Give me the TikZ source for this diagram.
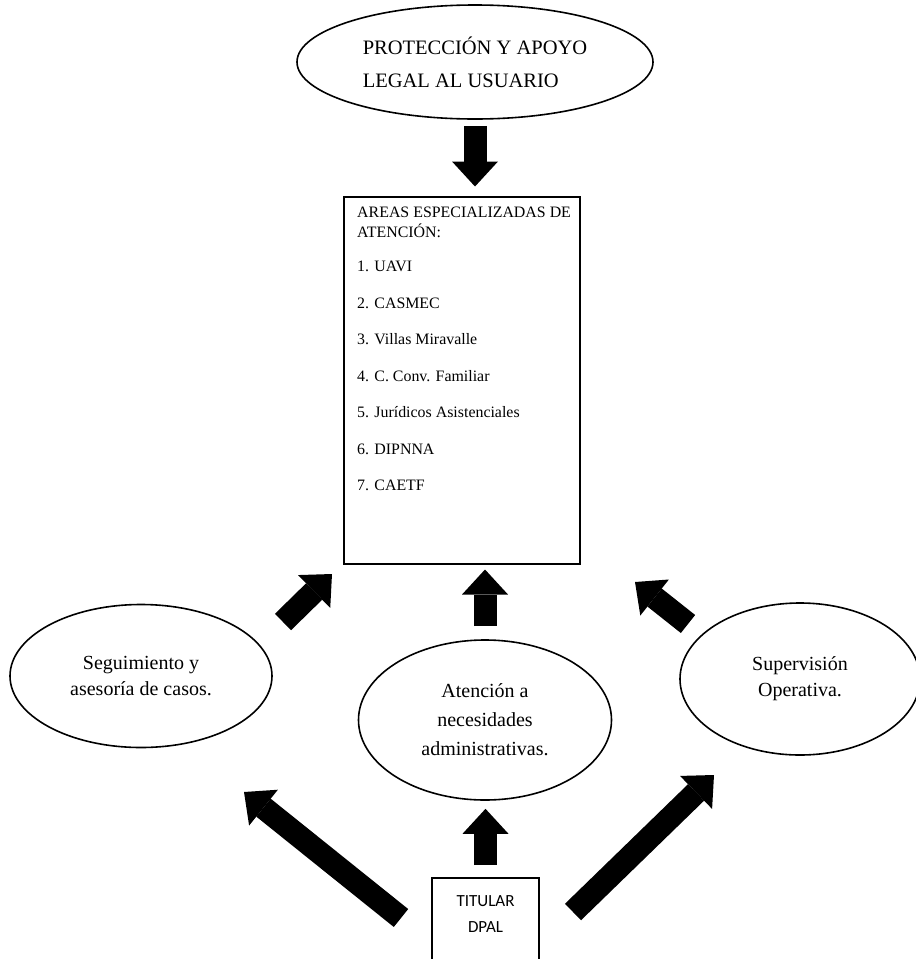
\documentclass[tikz,border=0pt]{standalone}
\usepackage{fontspec}
\setmainfont{Liberation Serif}
\newfontfamily\titularfont{Carlito}
\usetikzlibrary{shapes.geometric,arrows.meta}
\begin{document}
\begin{tikzpicture}[x=1pt,y=-1pt,
    oval/.style={draw,ellipse,line width=1.6pt,align=center,inner sep=0pt},
    box/.style={draw,line width=2pt,inner sep=0pt},
    blockarrow/.style={line width=23pt,-{Triangle[length=25pt,width=46pt,line width=0pt]}}]
  \useasboundingbox[fill=white] (0,0) rectangle (916,959);
  % nodos
  \node[oval,minimum width=356pt,minimum height=114pt,align=left,
        font=\fontsize{20.5}{33}\selectfont] (prot) at (475,62) {PROTECCIÓN Y APOYO\\LEGAL AL USUARIO};
  \node[box,minimum width=236pt,minimum height=367pt] (areas) at (462,380) {};
  \node[anchor=north west,align=left,inner sep=0pt,font=\fontsize{15.9}{20}\selectfont] (areastxt) at (357,207)
    {AREAS ESPECIALIZADAS DE\\ATENCIÓN:\\[14pt]
     1. UAVI\\[16.5pt]
     2. CASMEC\\[16.5pt]
     3. Villas Miravalle\\[16.5pt]
     4. C. Conv. Familiar\\[16.5pt]
     5. Jurídicos Asistenciales\\[16.5pt]
     6. DIPNNA\\[16.5pt]
     7. CAETF};
  \node[oval,minimum width=262pt,minimum height=143pt,font=\fontsize{20}{26}\selectfont] (seg) at (141,676) {Seguimiento y\\asesoría de casos.};
  \node[oval,minimum width=253pt,minimum height=160pt,font=\fontsize{20}{29}\selectfont] (admin) at (485,720) {Atención a\\necesidades\\administrativas.};
  \node[oval,minimum width=240pt,minimum height=152pt,font=\fontsize{20}{26}\selectfont] (superv) at (800,679) {Supervisión\\Operativa.};
  \node[box,minimum width=107pt,minimum height=110pt,anchor=north] (titular) at (485.5,877) {};
  \node[align=center,font=\titularfont\fontsize{17}{26}\selectfont] (titulartxt) at (485.5,914) {TITULAR\\DPAL};
  % extremos de las flechas diagonales
  \coordinate (ul0) at (283,622);
  \coordinate (ul1) at (332,574);
  \coordinate (ur0) at (688,624);
  \coordinate (ur1) at (635,582);
  \coordinate (ll0) at (401,918);
  \coordinate (ll1) at (244,792);
  \coordinate (lr0) at (573,912);
  \coordinate (lr1) at (714,775);
  % flechas
  \draw[blockarrow,shorten <=6pt,shorten >=9pt] (prot.south) -- (prot.south |- areas.north);
  \draw[blockarrow,shorten <=13pt,shorten >=5pt] (admin.north) -- (admin.north |- areas.south);
  \draw[blockarrow,shorten <=12pt,shorten >=8pt] (titular.north) -- (titular.north |- admin.south);
  \draw[blockarrow] (ul0) -- (ul1);
  \draw[blockarrow] (ur0) -- (ur1);
  \draw[blockarrow] (ll0) -- (ll1);
  \draw[blockarrow] (lr0) -- (lr1);
\end{tikzpicture}
\end{document}
